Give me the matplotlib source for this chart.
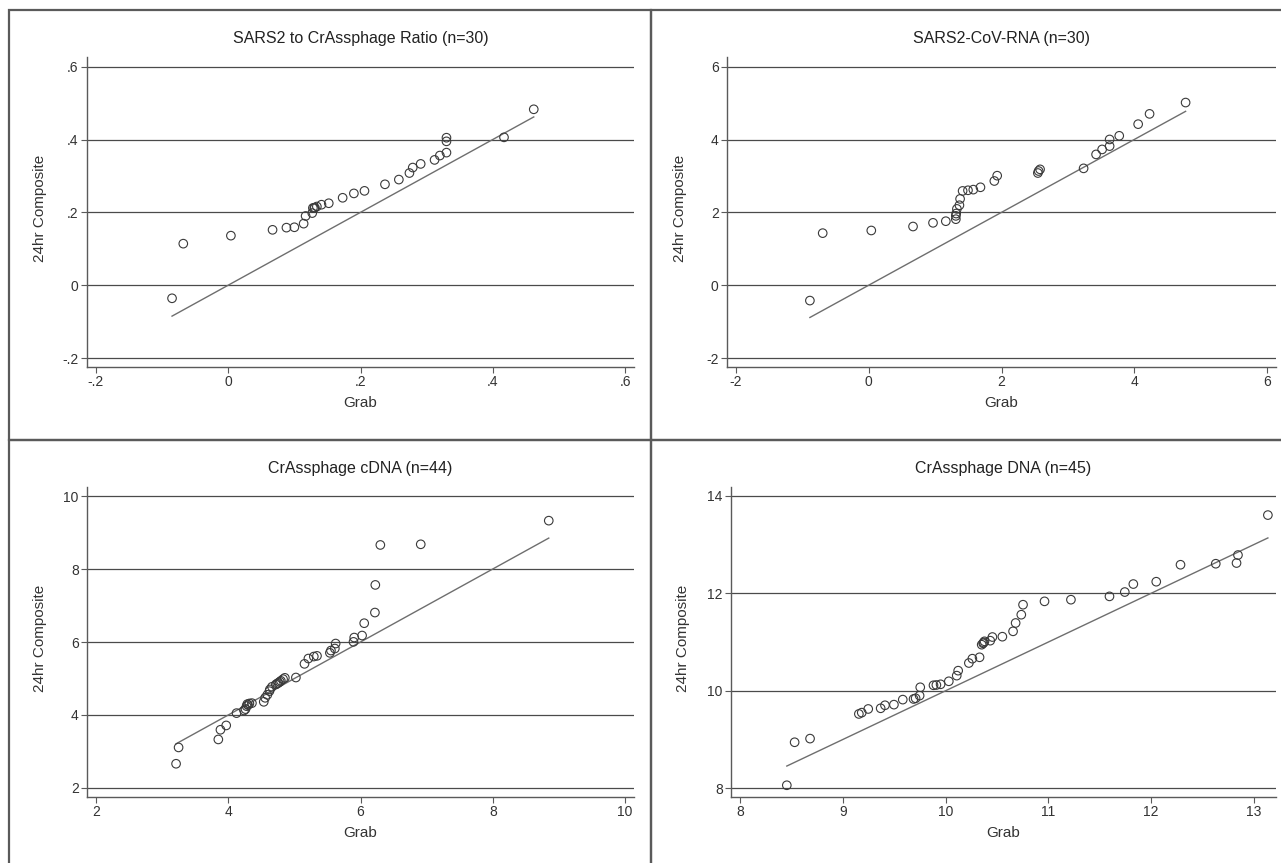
import matplotlib.pyplot as plt
from matplotlib.patches import Rectangle

plt.rcParams["font.family"] = ["Liberation Sans", "DejaVu Sans"]

W, H = 1281, 863

# SARS2 to CrAssphage ratio (n=30)
ratio_grab = [-0.085, -0.068, 0.004, 0.067, 0.088, 0.100, 0.114, 0.117, 0.127,
              0.128, 0.130, 0.131, 0.134, 0.141, 0.152, 0.173, 0.190, 0.206,
              0.237, 0.258, 0.274, 0.279, 0.291, 0.312, 0.320, 0.330, 0.330,
              0.330, 0.417, 0.462]
ratio_comp = [-0.036, 0.114, 0.136, 0.152, 0.158, 0.159, 0.169, 0.190, 0.198,
              0.212, 0.212, 0.213, 0.216, 0.221, 0.225, 0.240, 0.252, 0.259,
              0.277, 0.290, 0.308, 0.323, 0.333, 0.344, 0.356, 0.364, 0.395,
              0.405, 0.406, 0.483]

# SARS2-CoV-RNA (n=30)
rna_grab = [-0.887, -0.694, 0.038, 0.667, 0.968, 1.161, 1.312, 1.312, 1.317,
            1.328, 1.366, 1.376, 1.414, 1.495, 1.575, 1.683, 1.892, 1.935,
            2.548, 2.559, 2.581, 3.237, 3.425, 3.516, 3.629, 3.629, 3.774,
            4.059, 4.231, 4.774]
rna_comp = [-0.423, 1.429, 1.502, 1.611, 1.712, 1.757, 1.812, 1.903, 1.967,
            2.095, 2.195, 2.369, 2.588, 2.606, 2.624, 2.688, 2.861, 3.007,
            3.080, 3.135, 3.181, 3.208, 3.591, 3.728, 3.819, 4.002, 4.102,
            4.422, 4.704, 5.015]

# CrAssphage cDNA (n=44)
cdna_grab = [3.211, 3.249, 3.850, 3.882, 3.969, 4.125, 4.239, 4.261, 4.277,
             4.288, 4.300, 4.320, 4.358, 4.537, 4.558, 4.591, 4.623, 4.630,
             4.661, 4.720, 4.740, 4.758, 4.780, 4.796, 4.829, 4.856, 5.023,
             5.153, 5.212, 5.294, 5.342, 5.537, 5.553, 5.612, 5.624, 5.894,
             5.905, 6.024, 6.056, 6.218, 6.224, 6.300, 6.911, 8.847]
cdna_comp = [2.664, 3.111, 3.330, 3.595, 3.714, 4.051, 4.124, 4.161, 4.243,
             4.297, 4.270, 4.316, 4.325, 4.361, 4.471, 4.553, 4.653, 4.700,
             4.772, 4.836, 4.860, 4.881, 4.910, 4.936, 4.982, 5.018, 5.027,
             5.401, 5.547, 5.602, 5.620, 5.703, 5.766, 5.821, 5.958, 6.004,
             6.122, 6.177, 6.515, 6.807, 7.564, 8.659, 8.677, 9.325]

# CrAssphage DNA (n=45)
dna_grab = [8.455, 8.531, 8.681, 9.156, 9.184, 9.247, 9.368, 9.410, 9.497,
            9.583, 9.688, 9.708, 9.747, 9.753, 9.882, 9.910, 9.951, 10.031,
            10.108, 10.122, 10.226, 10.260, 10.330, 10.351, 10.365, 10.370,
            10.378, 10.434, 10.455, 10.552, 10.656, 10.681, 10.736, 10.753,
            10.962, 11.219, 11.594, 11.743, 11.826, 12.049, 12.285, 12.628,
            12.830, 12.844, 13.135]
dna_comp = [8.061, 8.943, 9.018, 9.524, 9.551, 9.626, 9.640, 9.702, 9.715,
            9.818, 9.831, 9.845, 9.900, 10.071, 10.112, 10.118, 10.132, 10.194,
            10.310, 10.412, 10.569, 10.658, 10.686, 10.945, 10.973, 10.990,
            11.014, 11.027, 11.102, 11.109, 11.219, 11.390, 11.560, 11.765,
            11.834, 11.868, 11.936, 12.025, 12.189, 12.237, 12.585, 12.606,
            12.620, 12.784, 13.604]

panels = [
    dict(title="SARS2 to CrAssphage Ratio (n=30)", x=ratio_grab, y=ratio_comp,
         box=(87, 57, 634, 367), xlim=(-0.2136, 0.6136), ylim=(-0.2247, 0.6266),
         ticks=[-0.2, 0, 0.2, 0.4, 0.6], labels=["-.2", "0", ".2", ".4", ".6"],
         ylab_x=40),
    dict(title="SARS2-CoV-RNA (n=30)", x=rna_grab, y=rna_comp,
         box=(727, 57, 1276, 367), xlim=(-2.136, 6.136), ylim=(-2.247, 6.266),
         ticks=[-2, 0, 2, 4, 6], labels=["-2", "0", "2", "4", "6"],
         ylab_x=680),
    dict(title="CrAssphage cDNA (n=44)", x=cdna_grab, y=cdna_comp,
         box=(87, 487, 634, 797), xlim=(1.864, 10.136), ylim=(1.753, 10.247),
         ticks=[2, 4, 6, 8, 10], labels=["2", "4", "6", "8", "10"],
         ylab_x=40),
    dict(title="CrAssphage DNA (n=45)", x=dna_grab, y=dna_comp,
         box=(731, 487, 1276, 797), xlim=(7.912, 13.214), ylim=(7.82, 14.18),
         ticks=None, labels=None, ylab_x=683),
]

fig = plt.figure(figsize=(W / 100, H / 100), dpi=100)

# panel outlines (the right and bottom edges fall outside the picture)
for (px, py) in [(9, 10), (651, 10), (9, 440), (651, 440)]:
    fig.patches.append(Rectangle((px / W, 1 - (py + 430) / H), 642 / W, 430 / H,
                                 transform=fig.transFigure, fill=False,
                                 edgecolor="#5a5a5a", lw=1.6))

for p in panels:
    x0, y0, x1, y1 = p["box"]
    ax = fig.add_axes([x0 / W, 1 - y1 / H, (x1 - x0) / W, (y1 - y0) / H])
    lo, hi = min(p["x"]), max(p["x"])
    ax.plot([lo, hi], [lo, hi], color="#6e6e6e", lw=1.0, zorder=2)
    ax.scatter(p["x"], p["y"], s=38, facecolors="none", edgecolors="#3a3a3a",
               linewidths=0.8, zorder=3)
    ax.set_xlim(p["xlim"])
    ax.set_ylim(p["ylim"])
    if p["ticks"] is not None:
        ax.set_xticks(p["ticks"], p["labels"])
        ax.set_yticks(p["ticks"], p["labels"])
    else:
        ax.set_xticks([8, 9, 10, 11, 12, 13])
        ax.set_yticks([8, 10, 12, 14])
    ax.yaxis.grid(True, color="#4a4a4a", lw=0.9)
    ax.set_axisbelow(True)
    for s in ["top", "right"]:
        ax.spines[s].set_visible(False)
    for s in ["left", "bottom"]:
        ax.spines[s].set_color("#5a5a5a")
        ax.spines[s].set_linewidth(1.0)
    ax.tick_params(direction="out", length=4, width=0.8, color="#5a5a5a",
                   labelsize=10, labelcolor="#333333", pad=2)

    cx = (x0 + x1) / 2
    fig.text(cx / W, 1 - (y0 - 19) / H, p["title"], ha="center", va="center",
             fontsize=11.5, color="#222222")
    fig.text(cx / W, 1 - (y1 + 36) / H, "Grab", ha="center", va="center",
             fontsize=11, color="#333333")
    fig.text(p["ylab_x"] / W, 1 - ((y0 + y1) / 2 - 4) / H, "24hr Composite",
             ha="center", va="center", rotation=90, fontsize=11,
             color="#333333")

fig.savefig("out.png", dpi=100)
